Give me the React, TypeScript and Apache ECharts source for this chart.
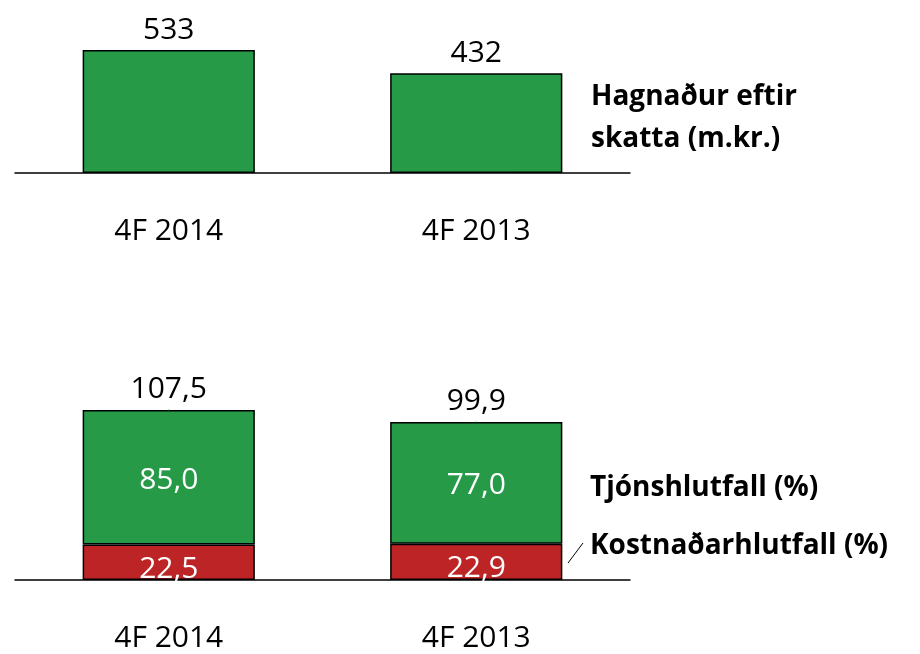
import React, { useEffect, useRef } from "react";
import * as echarts from "echarts";

const categories = ["4F 2014", "4F 2013"];
const profit = [533, 432];
const costRatio = [22.5, 22.9];
const claimsRatio = [85.0, 77.0];
const combinedRatio = [107.5, 99.9];

const GREEN = "#279A48";
const RED = "#BD2426";
const FONT = "'Open Sans', 'Noto Sans', sans-serif";

const fmt = (v: number) => v.toFixed(1).replace(".", ",");

export default function App() {
  const ref = useRef<HTMLDivElement>(null);
  useEffect(() => {
    if (!ref.current) return;
    const chart = echarts.init(ref.current, undefined, { renderer: "svg" });
    const xAxisCommon = {
      type: "category" as const,
      data: categories,
      axisLine: { lineStyle: { color: "#000", width: 1.5 } },
      axisTick: { show: false },
      axisLabel: { color: "#000", fontSize: 30, fontFamily: FONT, margin: 40 },
    };
    chart.setOption({
      animation: false,
      textStyle: { fontFamily: FONT },
      grid: [
        { left: 15, right: 290, top: 0, height: 173 },
        { left: 15, right: 290, top: 300, height: 280 },
      ],
      xAxis: [
        { ...xAxisCommon, gridIndex: 0 },
        { ...xAxisCommon, gridIndex: 1 },
      ],
      yAxis: [
        { type: "value", gridIndex: 0, min: 0, max: 750, show: false },
        { type: "value", gridIndex: 1, min: 0, max: 177, show: false },
      ],
      graphic: [
        {
          type: "text",
          left: 591,
          top: 73,
          style: {
            text: "Hagnaður eftir\nskatta (m.kr.)",
            font: `bold 28px ${FONT}`,
            fill: "#000",
            lineHeight: 42,
          },
        },
        {
          type: "text",
          left: 590,
          top: 471,
          style: { text: "Tjónshlutfall (%)", font: `bold 28px ${FONT}`, fill: "#000" },
        },
        {
          type: "text",
          left: 590,
          top: 529,
          style: { text: "Kostnaðarhlutfall (%)", font: `bold 28px ${FONT}`, fill: "#000" },
        },
        {
          type: "line",
          shape: { x1: 568, y1: 563, x2: 583, y2: 543 },
          style: { stroke: "#000", lineWidth: 1 },
        },
      ],
      series: [
        {
          type: "bar",
          xAxisIndex: 0,
          yAxisIndex: 0,
          data: profit,
          barWidth: "56%",
          itemStyle: { color: GREEN, borderColor: "#000", borderWidth: 1.5 },
          label: {
            show: true,
            position: "top",
            distance: 8,
            color: "#000",
            fontSize: 30,
            fontFamily: FONT,
          },
        },
        {
          type: "bar",
          name: "Kostnaðarhlutfall",
          xAxisIndex: 1,
          yAxisIndex: 1,
          stack: "r",
          data: costRatio,
          barWidth: "56%",
          itemStyle: { color: RED, borderColor: "#000", borderWidth: 1.5 },
          label: {
            show: true,
            position: "inside",
            offset: [0, 4],
            color: "#fff",
            fontSize: 30,
            fontFamily: FONT,
            formatter: (p: any) => fmt(p.value),
          },
        },
        {
          type: "bar",
          name: "Tjónshlutfall",
          xAxisIndex: 1,
          yAxisIndex: 1,
          stack: "r",
          data: claimsRatio,
          barWidth: "56%",
          itemStyle: { color: GREEN, borderColor: "#000", borderWidth: 1.5 },
          label: {
            show: true,
            position: "inside",
            color: "#fff",
            fontSize: 30,
            fontFamily: FONT,
            formatter: (p: any) => fmt(p.value),
          },
        },
        {
          type: "scatter",
          xAxisIndex: 1,
          yAxisIndex: 1,
          data: combinedRatio,
          symbol: "rect",
          symbolSize: [1, 1],
          itemStyle: { color: GREEN, opacity: 1 },
          label: {
            show: true,
            position: "top",
            distance: 8,
            color: "#000",
            opacity: 1,
            fontSize: 30,
            fontFamily: FONT,
            formatter: (p: any) => fmt(p.value),
          },
        },
      ],
    });
    return () => chart.dispose();
  }, []);
  return (
    <div
      ref={ref}
      style={{ position: "fixed", left: 0, top: 0, width: 920, height: 654 }}
    />
  );
}
